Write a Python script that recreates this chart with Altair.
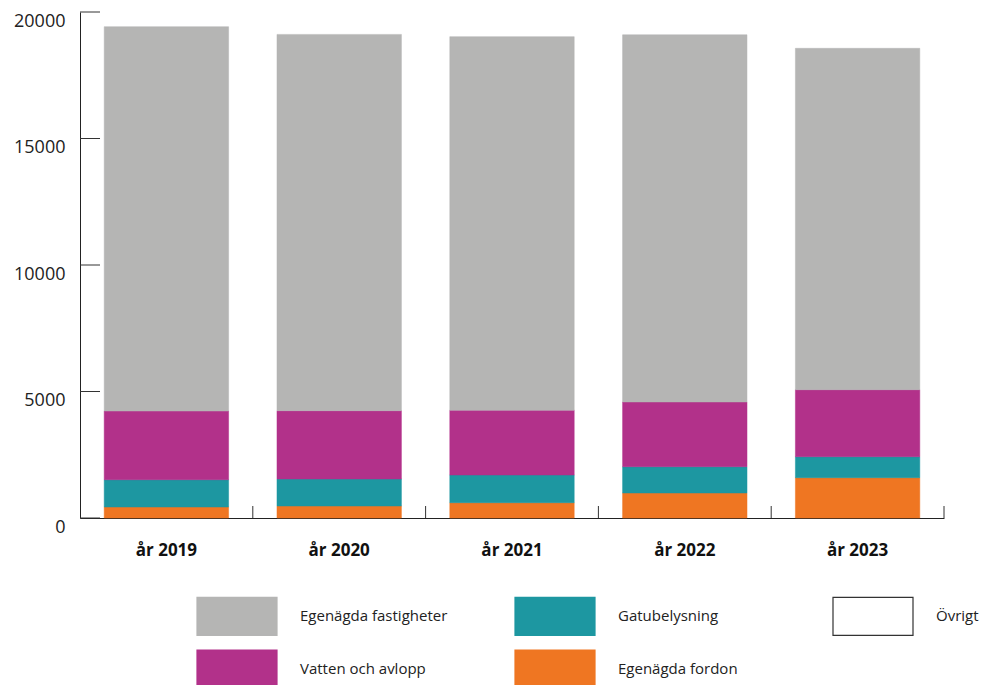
import altair as alt
import pandas as pd

years = ["år 2019", "år 2020", "år 2021", "år 2022", "år 2023"]
# legend order (row-major, 3 columns)
categories = ["Egenägda fastigheter", "Gatubelysning", "Övrigt", "Vatten och avlopp", "Egenägda fordon"]
fill_colors = ["#b5b5b4", "#1d97a1", "#ffffff", "#b2318a", "#ef7622"]
stroke_colors = ["#b5b5b4", "#1d97a1", "#333333", "#b2318a", "#ef7622"]
# stacking order, bottom to top
stack_categories = ["Egenägda fordon", "Gatubelysning", "Vatten och avlopp", "Egenägda fastigheter"]

fordon = [435, 474, 605, 988, 1593]
gatubelysning = [1079, 1067, 1095, 1040, 830]
vatten = [2715, 2700, 2557, 2557, 2648]
fastigheter = [15191, 14874, 14768, 14515, 13494]
y_ticks = [0, 5000, 10000, 15000, 20000]

series = {
    "Egenägda fordon": fordon,
    "Gatubelysning": gatubelysning,
    "Vatten och avlopp": vatten,
    "Egenägda fastigheter": fastigheter,
}
rows = []
for cat in stack_categories:
    for yr, v in zip(years, series[cat]):
        rows.append({"year": yr, "category": cat, "value": v, "ord": stack_categories.index(cat)})
df = pd.DataFrame(rows)

legend_spec = dict(
    title=None,
    orient="none",
    direction="horizontal",
    legendX=136,
    legendY=583,
    columns=3,
    gridAlign="all",
    symbolType="M-2,-0.95H2V0.95H-2Z",
    symbolSize=1600,
    symbolStrokeWidth=1.2,
    symbolOpacity=1,
    labelFontSize=15,
    labelOffset=42,
    labelColor="#222222",
    columnPadding=64,
    rowPadding=9,
)

bars = alt.Chart(df).mark_bar(strokeWidth=0.5).encode(
    x=alt.X(
        "year:N",
        sort=years,
        scale=alt.Scale(paddingInner=0.28, paddingOuter=0.14),
        axis=alt.Axis(
            title=None, labelAngle=0, ticks=False, labelFontWeight="bold",
            labelFontSize=17, labelPadding=24, labelColor="#111111",
            domainColor="#222222", domainWidth=1,
        ),
    ),
    y=alt.Y(
        "value:Q",
        stack="zero",
        scale=alt.Scale(domain=[0, 20000], nice=False),
        axis=alt.Axis(
            title=None, values=y_ticks, ticks=False, grid=False, format="d",
            labelPadding=15, labelOffset=9, labelFontSize=18, labelColor="#222222",
            domainColor="#222222", domainWidth=1,
        ),
    ),
    color=alt.Color("category:N", scale=alt.Scale(domain=categories, range=fill_colors),
                    legend=alt.Legend(**legend_spec)),
    stroke=alt.Stroke("category:N", scale=alt.Scale(domain=categories, range=stroke_colors),
                      legend=alt.Legend(**legend_spec)),
    order=alt.Order("ord:Q"),
)

ytick_rules = alt.Chart(pd.DataFrame({"v": y_ticks})).mark_rule(color="#333333", strokeWidth=1).encode(
    y=alt.Y("v:Q"),
    x=alt.value(0),
    x2=alt.value(20),
)

xtick_rules = alt.Chart(pd.DataFrame({"year": years})).mark_rule(color="#333333", strokeWidth=1).encode(
    x=alt.X("year:N", sort=years, bandPosition=1,
            scale=alt.Scale(paddingInner=0, paddingOuter=0), axis=None),
    y=alt.value(506),
    y2=alt.value(494),
)

chart = (
    alt.layer(bars, ytick_rules, xtick_rules)
    .resolve_scale(x="independent")
    .properties(
        width=864,
        height=506,
        autosize=alt.AutoSizeParams(type="none"),
        padding={"left": 80, "top": 12, "right": 43, "bottom": 167},
    )
    .configure(font="Open Sans")
    .configure_view(stroke=None)
)

chart.save("out.html", embed_options={"renderer": "svg", "actions": False})
